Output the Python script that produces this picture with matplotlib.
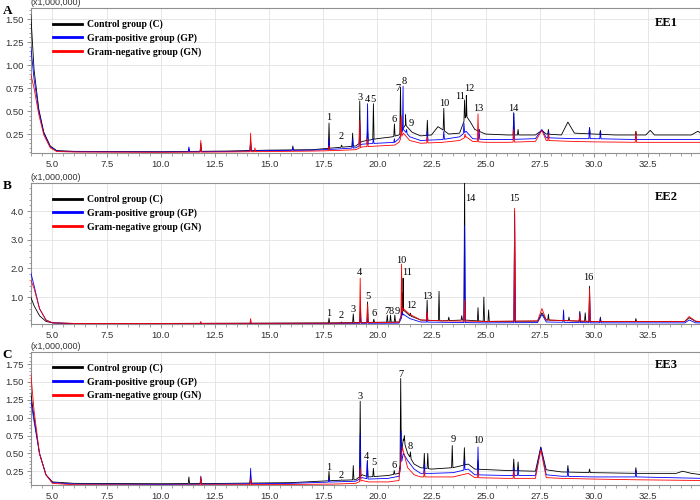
import numpy as np
import matplotlib
matplotlib.use("Agg")
from matplotlib import pyplot as plt
from matplotlib.ticker import MultipleLocator, FormatStrFormatter
from matplotlib.lines import Line2D

# retention time (min) / intensity (x1,000,000)
# baseline knots + sharp peaks (rt, apex height) for every group

# ---- EE1 ----
a_c_bt = [4.0, 4.15, 4.37, 4.6, 4.9, 5.2, 6, 10, 13, 15, 17, 18, 19, 19.3, 20, 20.7, 21.0, 21.3, 21.6, 22, 22.5, 22.8, 23.0, 23.3, 23.8, 24.1, 24.3, 24.5, 25, 26, 27.3, 27.6, 27.8, 28.5, 28.8, 29.1, 30, 31, 32.4, 32.6, 32.8, 34.5, 34.8, 35]
a_c_by = [1.55, 0.95, 0.52, 0.27, 0.12, 0.07, 0.062, 0.058, 0.065, 0.075, 0.08, 0.1, 0.12, 0.17, 0.2, 0.22, 0.24, 0.35, 0.27, 0.23, 0.24, 0.33, 0.3, 0.25, 0.26, 0.45, 0.38, 0.3, 0.25, 0.24, 0.24, 0.29, 0.25, 0.24, 0.38, 0.26, 0.25, 0.24, 0.24, 0.29, 0.24, 0.24, 0.28, 0.25]
a_c_pt = [11.3, 11.85, 14.15, 16.1, 17.77, 18.35, 18.86, 19.19, 19.55, 19.82, 20.79, 21.07, 21.3, 21.53, 22.31, 23.07, 24.03, 24.11, 24.7, 26.3, 26.5, 27.9, 29.8, 30.3, 31.94]
a_c_ph = [0.09, 0.15, 0.18, 0.12, 0.37, 0.13, 0.26, 0.61, 0.3, 0.58, 0.36, 0.76, 0.46, 0.29, 0.40, 0.53, 0.62, 0.67, 0.3, 0.48, 0.3, 0.3, 0.32, 0.29, 0.28]

a_gp_bt = [4.0, 4.15, 4.37, 4.6, 4.9, 5.2, 6, 10, 13, 15, 17, 18, 19, 19.3, 20, 20.8, 21.0, 21.2, 21.5, 22, 23, 23.8, 24.1, 24.4, 25, 26, 27.3, 27.6, 27.8, 29, 30, 32, 35]
a_gp_by = [1.2, 0.85, 0.5, 0.26, 0.11, 0.065, 0.058, 0.055, 0.06, 0.07, 0.075, 0.085, 0.1, 0.14, 0.15, 0.16, 0.2, 0.3, 0.22, 0.18, 0.19, 0.22, 0.28, 0.2, 0.19, 0.19, 0.2, 0.3, 0.21, 0.2, 0.2, 0.19, 0.19]
a_gp_pt = [11.3, 11.85, 14.15, 16.1, 17.77, 18.86, 19.19, 19.55, 19.82, 20.79, 21.19, 21.35, 22.31, 23.07, 24.0, 24.7, 26.3, 27.9, 29.8, 30.3, 31.94]
a_gp_ph = [0.11, 0.12, 0.17, 0.1, 0.2, 0.2, 0.35, 0.58, 0.2, 0.2, 0.77, 0.3, 0.28, 0.28, 0.37, 0.3, 0.48, 0.28, 0.32, 0.27, 0.24]

a_gn_bt = [4.0, 4.15, 4.37, 4.6, 4.9, 5.2, 6, 10, 13, 15, 17, 18, 19, 19.3, 20, 20.8, 21.0, 21.2, 21.5, 22, 23, 23.8, 24.1, 24.4, 25, 26, 27.3, 27.6, 27.8, 29, 30, 32, 35]
a_gn_by = [0.9, 0.75, 0.46, 0.24, 0.1, 0.06, 0.055, 0.052, 0.055, 0.06, 0.065, 0.07, 0.08, 0.11, 0.12, 0.13, 0.16, 0.26, 0.18, 0.15, 0.16, 0.18, 0.22, 0.17, 0.16, 0.16, 0.17, 0.29, 0.18, 0.17, 0.165, 0.16, 0.16]
a_gn_pt = [11.85, 14.15, 14.35, 17.77, 19.19, 19.55, 21.1, 22.31, 24.05, 24.65, 26.3, 27.9, 31.94]
a_gn_ph = [0.18, 0.26, 0.1, 0.12, 0.4, 0.2, 0.45, 0.22, 0.25, 0.47, 0.3, 0.25, 0.28]

a_lab = ["1", "2", "3", "4", "5", "6", "7", "8", "9", "10", "11", "12", "13", "14"]
a_lab_t = [17.77, 18.35, 19.19, 19.55, 19.82, 20.79, 20.93, 21.22, 21.56, 23.07, 23.84, 24.25, 24.65, 26.3]
a_lab_y = [0.435, 0.22, 0.65, 0.63, 0.63, 0.41, 0.75, 0.82, 0.37, 0.58, 0.66, 0.74, 0.53, 0.53]

# ---- EE2 ----
b_c_bt = [4.0, 4.15, 4.4, 4.7, 5.0, 6, 10, 15, 18, 19, 21, 21.2, 21.5, 22, 23, 24, 25, 27.4, 27.6, 27.8, 30, 34.2, 34.4, 34.7, 35]
b_c_by = [1.0, 0.7, 0.35, 0.15, 0.1, 0.08, 0.08, 0.09, 0.1, 0.11, 0.13, 0.55, 0.35, 0.2, 0.17, 0.2, 0.15, 0.16, 0.45, 0.2, 0.14, 0.15, 0.28, 0.15, 0.13]
b_c_pt = [17.77, 18.35, 18.89, 19.22, 19.55, 19.84, 20.46, 20.61, 20.81, 21.15, 21.19, 21.53, 22.3, 22.85, 23.3, 23.9, 24.03, 24.65, 24.92, 25.14, 26.34, 27.9, 28.85, 29.35, 29.6, 29.8, 30.3, 31.94]
b_c_ph = [0.27, 0.13, 0.41, 0.72, 0.83, 0.23, 0.37, 0.37, 0.37, 1.14, 1.66, 0.44, 0.89, 1.2, 0.3, 0.35, 5.2, 0.63, 1.0, 0.55, 4.0, 0.4, 0.3, 0.5, 0.45, 1.38, 0.3, 0.25]

b_gp_bt = [4.0, 4.15, 4.4, 4.7, 5.0, 6, 10, 15, 18, 21, 21.2, 21.5, 22, 25, 27.4, 27.6, 27.8, 30, 34.2, 34.4, 34.7, 35]
b_gp_by = [1.85, 1.4, 0.6, 0.2, 0.1, 0.07, 0.07, 0.075, 0.08, 0.09, 0.4, 0.25, 0.13, 0.1, 0.11, 0.4, 0.13, 0.1, 0.1, 0.2, 0.1, 0.1]
b_gp_pt = [14.15, 19.22, 19.55, 21.15, 22.3, 24.03, 26.34, 28.6, 29.35, 29.8, 30.3]
b_gp_ph = [0.12, 0.35, 0.3, 0.6, 0.4, 3.5, 3.9, 0.55, 0.45, 1.1, 0.25]

b_gn_bt = [4.0, 4.15, 4.4, 4.7, 5.0, 6, 10, 15, 18, 21, 21.2, 21.5, 22, 23, 25, 27.4, 27.6, 27.8, 30, 34.2, 34.4, 34.7, 35]
b_gn_by = [1.6, 1.3, 0.6, 0.2, 0.1, 0.08, 0.08, 0.085, 0.09, 0.12, 0.6, 0.4, 0.2, 0.17, 0.15, 0.17, 0.6, 0.2, 0.15, 0.15, 0.32, 0.16, 0.14]
b_gn_pt = [11.85, 14.15, 19.21, 19.55, 21.12, 22.3, 24.03, 26.34, 29.35, 29.8]
b_gn_ph = [0.15, 0.25, 1.66, 0.75, 2.15, 0.5, 0.9, 4.1, 0.4, 1.3]

b_lab = ["1", "2", "3", "4", "5", "6", "7", "8", "9", "10", "11", "12", "13", "14", "15", "16"]
b_lab_t = [17.77, 18.35, 18.89, 19.15, 19.57, 19.84, 20.46, 20.65, 20.9, 21.12, 21.36, 21.58, 22.32, 24.31, 26.34, 29.75]
b_lab_y = [0.41, 0.34, 0.58, 1.84, 1.03, 0.41, 0.48, 0.5, 0.5, 2.29, 1.84, 0.69, 1.03, 4.45, 4.45, 1.7]

# ---- EE3 ----
c_c_bt = [4.0, 4.15, 4.4, 4.7, 5.0, 6, 10, 13, 16, 18, 19, 19.3, 19.6, 20.5, 21.0, 21.2, 21.4, 21.7, 22, 22.5, 23.5, 24.2, 24.5, 26, 27.3, 27.55, 27.8, 28.5, 30, 32, 33.8, 34.1, 34.5, 35]
c_c_by = [1.35, 1.0, 0.5, 0.2, 0.1, 0.08, 0.075, 0.08, 0.09, 0.12, 0.13, 0.2, 0.17, 0.19, 0.22, 0.7, 0.5, 0.35, 0.3, 0.28, 0.3, 0.35, 0.28, 0.26, 0.25, 0.59, 0.27, 0.24, 0.23, 0.22, 0.22, 0.25, 0.22, 0.2]
c_c_pt = [11.3, 11.85, 14.15, 17.77, 18.35, 18.89, 19.21, 19.54, 19.82, 20.78, 21.08, 21.25, 21.53, 22.17, 22.33, 23.46, 24.02, 24.65, 26.3, 26.5, 28.8, 29.8, 31.94]
c_c_ph = [0.17, 0.15, 0.2, 0.25, 0.13, 0.33, 1.23, 0.4, 0.29, 0.26, 1.55, 0.75, 0.52, 0.5, 0.5, 0.61, 0.58, 0.4, 0.42, 0.38, 0.33, 0.28, 0.3]

c_gp_bt = [4.0, 4.15, 4.4, 4.7, 5.0, 6, 10, 13, 16, 18, 19, 19.3, 19.6, 20.5, 21.0, 21.2, 21.4, 21.7, 22, 22.5, 23.5, 24.2, 24.5, 26, 27.3, 27.55, 27.8, 28.5, 30, 32, 35]
c_gp_by = [1.25, 0.95, 0.5, 0.2, 0.09, 0.07, 0.065, 0.07, 0.08, 0.1, 0.11, 0.16, 0.14, 0.15, 0.18, 0.5, 0.4, 0.28, 0.22, 0.22, 0.23, 0.28, 0.2, 0.19, 0.19, 0.58, 0.2, 0.18, 0.17, 0.17, 0.15]
c_gp_pt = [11.85, 14.15, 17.77, 19.21, 19.54, 21.1, 22.17, 24.02, 24.65, 26.3, 26.5, 28.8, 31.94]
c_gp_ph = [0.18, 0.29, 0.15, 0.77, 0.4, 0.81, 0.35, 0.4, 0.59, 0.3, 0.3, 0.28, 0.26]

c_gn_bt = [4.0, 4.15, 4.4, 4.7, 5.0, 6, 10, 13, 16, 18, 19, 19.3, 19.6, 20.5, 21.0, 21.15, 21.4, 21.7, 22, 23.5, 24.2, 24.5, 26, 27.3, 27.55, 27.8, 28.5, 30, 32, 35]
c_gn_by = [1.62, 1.1, 0.5, 0.2, 0.08, 0.06, 0.055, 0.06, 0.065, 0.07, 0.08, 0.12, 0.1, 0.1, 0.12, 0.59, 0.3, 0.2, 0.17, 0.17, 0.22, 0.16, 0.15, 0.15, 0.55, 0.16, 0.15, 0.14, 0.13, 0.12]
c_gn_pt = [11.85, 14.15, 19.21, 22.17, 24.65, 26.3]
c_gn_ph = [0.17, 0.14, 0.3, 0.25, 0.25, 0.25]

c_lab = ["1", "2", "3", "4", "5", "6", "7", "8", "9", "10"]
c_lab_t = [17.77, 18.35, 19.21, 19.5, 19.84, 20.78, 21.08, 21.53, 23.5, 24.65]
c_lab_y = [0.305, 0.195, 1.29, 0.46, 0.37, 0.33, 1.61, 0.59, 0.69, 0.675]

groups = ["Control group (C)", "Gram-positive group (GP)", "Gram-negative group (GN)"]
colors = ["#000000", "#0000ff", "#ff0000"]


def trace(bt, by, pt, ph, hw=0.03):
    # baseline knots plus a narrow triangle for each sharp peak
    xs = list(bt)
    ys = list(by)
    for t, h in zip(pt, ph):
        foot = np.interp([t - hw, t + hw], bt, by)
        xs += [t - hw, t, t + hw]
        ys += [foot[0], h, foot[1]]
    order = np.argsort(xs, kind="stable")
    return np.array(xs)[order], np.array(ys)[order]


panels = [
    dict(letter="A", name="EE1", ylim=(0.044, 1.62), major=0.25, minor=0.05, fmt="%.2f",
         series=[(a_c_bt, a_c_by, a_c_pt, a_c_ph), (a_gp_bt, a_gp_by, a_gp_pt, a_gp_ph), (a_gn_bt, a_gn_by, a_gn_pt, a_gn_ph)],
         labels=(a_lab, a_lab_t, a_lab_y), rect=[0.044, 0.694, 0.956, 0.290]),
    dict(letter="B", name="EE2", ylim=(0.06, 4.98), major=1.0, minor=0.2, fmt="%.1f",
         series=[(b_c_bt, b_c_by, b_c_pt, b_c_ph), (b_gp_bt, b_gp_by, b_gp_pt, b_gp_ph), (b_gn_bt, b_gn_by, b_gn_pt, b_gn_ph)],
         labels=(b_lab, b_lab_t, b_lab_y), rect=[0.044, 0.352, 0.956, 0.282]),
    dict(letter="C", name="EE3", ylim=(0.057, 1.92), major=0.25, minor=0.05, fmt="%.2f",
         series=[(c_c_bt, c_c_by, c_c_pt, c_c_ph), (c_gp_bt, c_gp_by, c_gp_pt, c_gp_ph), (c_gn_bt, c_gn_by, c_gn_pt, c_gn_ph)],
         labels=(c_lab, c_lab_t, c_lab_y), rect=[0.044, 0.030, 0.956, 0.266]),
]

serif = ["Liberation Serif", "DejaVu Serif"]
sans = ["Liberation Sans", "DejaVu Sans"]

fig = plt.figure(figsize=(7, 5), dpi=100)

for p in panels:
    ax = fig.add_axes(p["rect"])
    for (bt, by, pt, ph), col in zip(p["series"], colors):
        x, y = trace(bt, by, pt, ph)
        ax.plot(x, y, color=col, lw=0.6, zorder=3)

    ax.set_xlim(4.0, 34.9)
    ax.set_ylim(*p["ylim"])
    ax.xaxis.set_major_locator(MultipleLocator(2.5))
    ax.xaxis.set_minor_locator(MultipleLocator(0.5))
    ax.xaxis.set_major_formatter(FormatStrFormatter("%.1f"))
    ax.yaxis.set_major_locator(MultipleLocator(p["major"]))
    ax.yaxis.set_minor_locator(MultipleLocator(p["minor"]))
    ax.yaxis.set_major_formatter(FormatStrFormatter(p["fmt"]))
    ax.grid(True, which="major", color="#e2e2e2", lw=0.6, zorder=0)
    ax.tick_params(which="major", length=3, width=0.6, color="#808080", labelsize=6.8, labelcolor="#333333", pad=2)
    ax.tick_params(which="minor", length=1.8, width=0.5, color="#808080")
    for lab in ax.get_xticklabels() + ax.get_yticklabels():
        lab.set_family(sans)
    for s in ax.spines.values():
        s.set_color("#909090")
        s.set_linewidth(0.8)

    names, lt, ly = p["labels"]
    for s, t, v in zip(names, lt, ly):
        ax.text(t, v, s, ha="center", va="center", fontsize=7.5, family=serif, zorder=4)

    ax.text(0.0, 1.008, "(x1,000,000)", transform=ax.transAxes, fontsize=6.5,
            family=sans, color="#333333", va="bottom", ha="left")
    ax.text(0.95, 0.90, p["name"], transform=ax.transAxes, fontsize=9, family=serif,
            weight="bold", ha="center", va="center")
    fig.text(0.004, p["rect"][1] + p["rect"][3] + 0.006, p["letter"], fontsize=9.5,
             family=serif, weight="bold", va="top", ha="left")

    handles = [Line2D([], [], color=c, lw=2) for c in colors]
    ax.legend(handles, groups, loc="upper left", bbox_to_anchor=(0.02, 0.98), frameon=False,
              prop=dict(family=serif, weight="bold", size=7), handlelength=3.0,
              labelspacing=0.42, handletextpad=0.5)

fig.savefig("out.png", dpi=100)
